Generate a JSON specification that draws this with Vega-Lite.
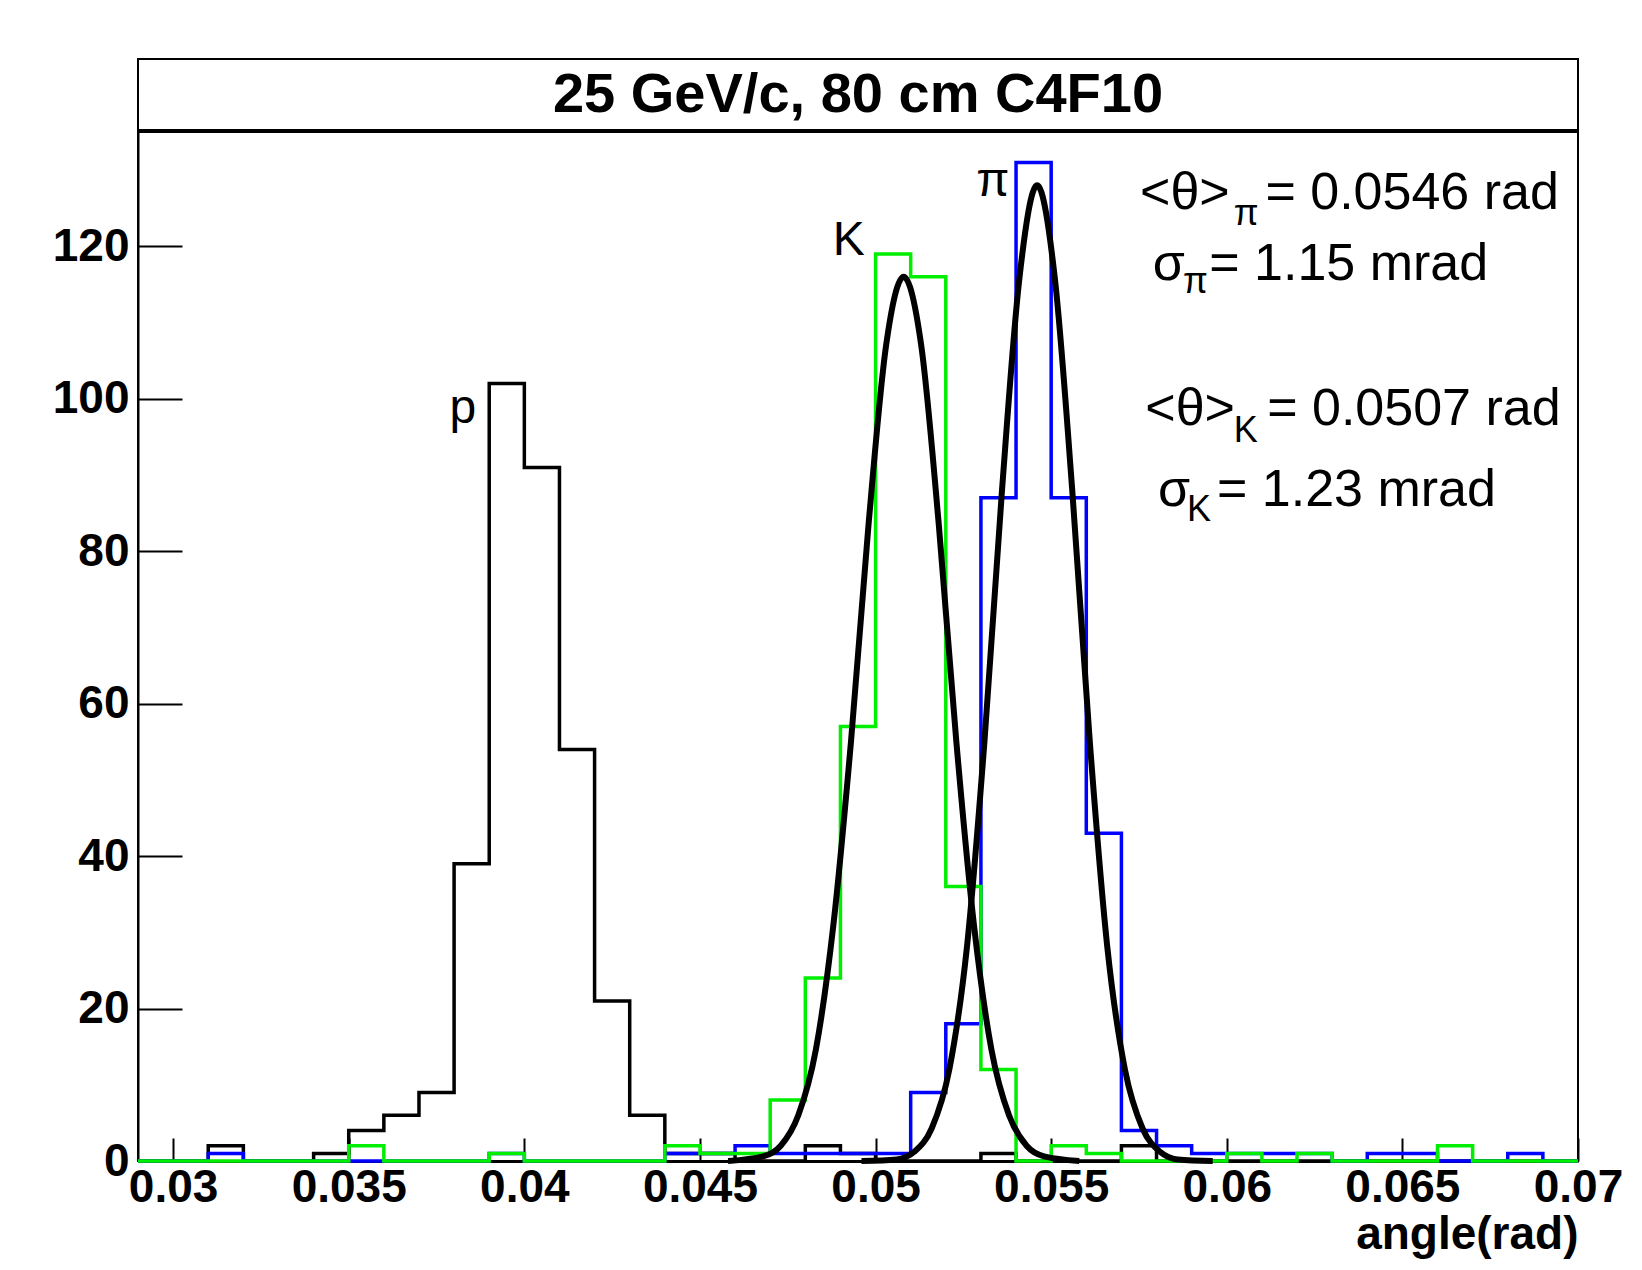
{
  "$schema": "https://vega.github.io/schema/vega-lite/v6.json",
  "autosize": {"type": "pad"},
  "padding": {"left": 51, "top": 58, "right": 20, "bottom": 10},
  "background": "white",
  "spacing": 0,
  "config": {
    "font": "Liberation Sans",
    "view": {"stroke": "black", "strokeWidth": 2},
    "concat": {"spacing": 0}
  },
  "datasets": {
    "hist": [
      {"s": "p", "x": 0.029, "y": 0}, {"s": "p", "x": 0.031, "y": 2}, {"s": "p", "x": 0.032, "y": 0},
      {"s": "p", "x": 0.034, "y": 1}, {"s": "p", "x": 0.035, "y": 4}, {"s": "p", "x": 0.036, "y": 6},
      {"s": "p", "x": 0.037, "y": 9}, {"s": "p", "x": 0.038, "y": 39}, {"s": "p", "x": 0.039, "y": 102},
      {"s": "p", "x": 0.040, "y": 91}, {"s": "p", "x": 0.041, "y": 54}, {"s": "p", "x": 0.042, "y": 21},
      {"s": "p", "x": 0.043, "y": 6}, {"s": "p", "x": 0.044, "y": 1}, {"s": "p", "x": 0.046, "y": 0},
      {"s": "p", "x": 0.048, "y": 2}, {"s": "p", "x": 0.049, "y": 1}, {"s": "p", "x": 0.050, "y": 0},
      {"s": "p", "x": 0.053, "y": 1}, {"s": "p", "x": 0.054, "y": 0}, {"s": "p", "x": 0.057, "y": 2},
      {"s": "p", "x": 0.058, "y": 0}, {"s": "p", "x": 0.070, "y": 0},
      {"s": "pi", "x": 0.029, "y": 0}, {"s": "pi", "x": 0.031, "y": 1}, {"s": "pi", "x": 0.032, "y": 0},
      {"s": "pi", "x": 0.039, "y": 1}, {"s": "pi", "x": 0.040, "y": 0}, {"s": "pi", "x": 0.044, "y": 1},
      {"s": "pi", "x": 0.046, "y": 2}, {"s": "pi", "x": 0.047, "y": 1}, {"s": "pi", "x": 0.051, "y": 9},
      {"s": "pi", "x": 0.052, "y": 18}, {"s": "pi", "x": 0.053, "y": 87}, {"s": "pi", "x": 0.054, "y": 131},
      {"s": "pi", "x": 0.055, "y": 87}, {"s": "pi", "x": 0.056, "y": 43}, {"s": "pi", "x": 0.057, "y": 4},
      {"s": "pi", "x": 0.058, "y": 2}, {"s": "pi", "x": 0.059, "y": 1}, {"s": "pi", "x": 0.063, "y": 0},
      {"s": "pi", "x": 0.064, "y": 1}, {"s": "pi", "x": 0.066, "y": 0}, {"s": "pi", "x": 0.068, "y": 1},
      {"s": "pi", "x": 0.069, "y": 0}, {"s": "pi", "x": 0.070, "y": 0},
      {"s": "K", "x": 0.029, "y": 0}, {"s": "K", "x": 0.035, "y": 2}, {"s": "K", "x": 0.036, "y": 0},
      {"s": "K", "x": 0.039, "y": 1}, {"s": "K", "x": 0.040, "y": 0}, {"s": "K", "x": 0.044, "y": 2},
      {"s": "K", "x": 0.045, "y": 1}, {"s": "K", "x": 0.047, "y": 8}, {"s": "K", "x": 0.048, "y": 24},
      {"s": "K", "x": 0.049, "y": 57}, {"s": "K", "x": 0.050, "y": 119}, {"s": "K", "x": 0.051, "y": 116},
      {"s": "K", "x": 0.052, "y": 36}, {"s": "K", "x": 0.053, "y": 12}, {"s": "K", "x": 0.054, "y": 0},
      {"s": "K", "x": 0.055, "y": 2}, {"s": "K", "x": 0.056, "y": 1}, {"s": "K", "x": 0.057, "y": 0},
      {"s": "K", "x": 0.060, "y": 1}, {"s": "K", "x": 0.061, "y": 0}, {"s": "K", "x": 0.062, "y": 1},
      {"s": "K", "x": 0.063, "y": 0}, {"s": "K", "x": 0.066, "y": 2}, {"s": "K", "x": 0.067, "y": 0},
      {"s": "K", "x": 0.070, "y": 0}
    ],
    "fit": [
      {"s": "K", "x": 0.0458, "y": 0}, {"s": "K", "x": 0.0468, "y": 0.6}, {"s": "K", "x": 0.0473, "y": 2},
      {"s": "K", "x": 0.0478, "y": 6}, {"s": "K", "x": 0.0483, "y": 14.6}, {"s": "K", "x": 0.0488, "y": 31},
      {"s": "K", "x": 0.0493, "y": 55}, {"s": "K", "x": 0.0498, "y": 83.5}, {"s": "K", "x": 0.0503, "y": 107},
      {"s": "K", "x": 0.0508, "y": 116}, {"s": "K", "x": 0.0513, "y": 107}, {"s": "K", "x": 0.0518, "y": 83.5},
      {"s": "K", "x": 0.0523, "y": 55}, {"s": "K", "x": 0.0528, "y": 31}, {"s": "K", "x": 0.0533, "y": 14.6},
      {"s": "K", "x": 0.0538, "y": 6}, {"s": "K", "x": 0.0543, "y": 2}, {"s": "K", "x": 0.0548, "y": 0.6},
      {"s": "K", "x": 0.0558, "y": 0},
      {"s": "pi", "x": 0.0496, "y": 0}, {"s": "pi", "x": 0.0506, "y": 0.2}, {"s": "pi", "x": 0.0511, "y": 1.2},
      {"s": "pi", "x": 0.0516, "y": 4.3}, {"s": "pi", "x": 0.0521, "y": 12}, {"s": "pi", "x": 0.0526, "y": 28},
      {"s": "pi", "x": 0.0531, "y": 55}, {"s": "pi", "x": 0.0536, "y": 88}, {"s": "pi", "x": 0.0541, "y": 116},
      {"s": "pi", "x": 0.0546, "y": 128}, {"s": "pi", "x": 0.0551, "y": 116}, {"s": "pi", "x": 0.0556, "y": 88},
      {"s": "pi", "x": 0.0561, "y": 55}, {"s": "pi", "x": 0.0566, "y": 28}, {"s": "pi", "x": 0.0571, "y": 12},
      {"s": "pi", "x": 0.0576, "y": 4.3}, {"s": "pi", "x": 0.0581, "y": 1.2}, {"s": "pi", "x": 0.0586, "y": 0.2},
      {"s": "pi", "x": 0.0596, "y": 0}
    ],
    "labels": [
      {"x": 0.03787, "y": 98.7, "t": "p", "size": 48},
      {"x": 0.04878, "y": 120.7, "t": "K", "size": 48},
      {"x": 0.05287, "y": 128.4, "t": "π", "size": 48},
      {"x": 0.05753, "y": 127, "t": "<θ>", "size": 52},
      {"x": 0.06020, "y": 124.3, "t": "π", "size": 36},
      {"x": 0.0611, "y": 127, "t": "= 0.0546 rad", "size": 52},
      {"x": 0.05789, "y": 117.7, "t": "σ", "size": 52},
      {"x": 0.05875, "y": 115.3, "t": "π", "size": 36},
      {"x": 0.05950, "y": 117.7, "t": "= 1.15 mrad", "size": 52},
      {"x": 0.05768, "y": 98.7, "t": "<θ>", "size": 52},
      {"x": 0.06020, "y": 95.8, "t": "K", "size": 36},
      {"x": 0.06115, "y": 98.7, "t": "= 0.0507 rad", "size": 52},
      {"x": 0.05804, "y": 88, "t": "σ", "size": 52},
      {"x": 0.05887, "y": 85.4, "t": "K", "size": 36},
      {"x": 0.05972, "y": 88, "t": "= 1.23 mrad", "size": 52}
    ]
  },
  "vconcat": [
    {
      "width": 1440,
      "height": 71,
      "view": {"stroke": "black", "strokeWidth": 2},
      "data": {"values": [{"t": "25 GeV/c, 80 cm C4F10", "x": 0.5, "y": 0.5}]},
      "mark": {"type": "text", "fontSize": 56, "fontWeight": "bold", "align": "center", "baseline": "middle"},
      "encoding": {
        "text": {"field": "t"},
        "x": {"field": "x", "type": "quantitative", "scale": {"domain": [0, 1]}, "axis": null},
        "y": {"field": "y", "type": "quantitative", "scale": {"domain": [0, 1]}, "axis": null}
      }
    },
    {
      "width": 1440,
      "height": 1029,
      "layer": [
        {
          "data": {"name": "hist"},
          "mark": {"type": "line", "interpolate": "step-after", "strokeWidth": 3.5},
          "encoding": {
            "x": {
              "field": "x", "type": "quantitative",
              "scale": {"domain": [0.029, 0.070], "nice": false, "zero": false},
              "axis": {
                "values": [0.03, 0.035, 0.04, 0.045, 0.05, 0.055, 0.06, 0.065, 0.07],
                "format": ".3~f", "title": "angle(rad)", "titleAnchor": "end",
                "titleFontSize": 46, "titleFontWeight": "bold", "titlePadding": 2,
                "labelFontSize": 46, "labelFontWeight": "bold", "labelColor": "black",
                "labelPadding": 27, "tickSize": -23, "tickColor": "black", "tickWidth": 2,
                "domainColor": "black", "domainWidth": 3, "grid": false, "labelFlush": false
              }
            },
            "y": {
              "field": "y", "type": "quantitative",
              "scale": {"domain": [0, 135], "nice": false},
              "axis": {
                "values": [0, 20, 40, 60, 80, 100, 120], "title": null,
                "labelFontSize": 46, "labelFontWeight": "bold", "labelColor": "black",
                "labelPadding": 53, "tickSize": -44, "tickColor": "black", "tickWidth": 2,
                "domainColor": "black", "domainWidth": 2, "grid": false
              }
            },
            "color": {
              "field": "s", "type": "nominal", "legend": null,
              "scale": {"domain": ["p", "pi", "K"], "range": ["black", "#0000ff", "#00ee00"]}
            }
          }
        },
        {
          "data": {"name": "fit"},
          "mark": {"type": "line", "interpolate": "monotone", "strokeWidth": 6, "color": "black"},
          "encoding": {
            "x": {"field": "x", "type": "quantitative"},
            "y": {"field": "y", "type": "quantitative"},
            "detail": {"field": "s"}
          }
        },
        {
          "data": {"name": "labels"},
          "mark": {"type": "text", "align": "left", "baseline": "middle", "color": "black"},
          "encoding": {
            "x": {"field": "x", "type": "quantitative"},
            "y": {"field": "y", "type": "quantitative"},
            "text": {"field": "t"},
            "size": {"field": "size", "type": "quantitative", "scale": null}
          }
        }
      ]
    }
  ]
}
